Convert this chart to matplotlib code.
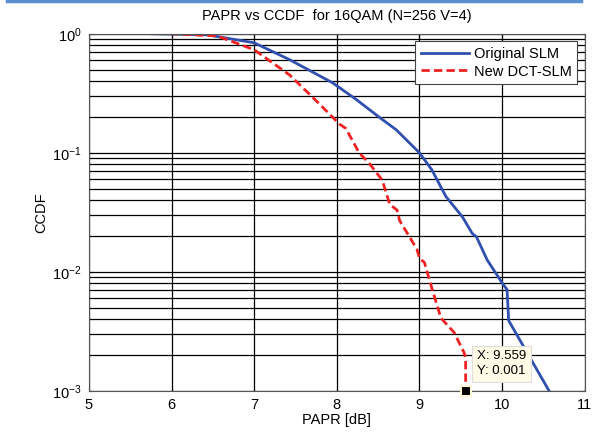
import numpy as np
import matplotlib.pyplot as plt
from matplotlib.lines import Line2D

plt.rcParams['font.family'] = ['Liberation Sans', 'DejaVu Sans']

# Original SLM curve
papr_orig = [5.76, 6.43, 7.00, 7.43, 7.95, 8.24, 8.51, 8.72, 9.00, 9.15, 9.32,
             9.52, 9.64, 9.69, 9.82, 10.00, 10.06, 10.08, 10.57]
ccdf_orig = [1.0, 0.98, 0.84, 0.605, 0.387, 0.279, 0.20, 0.156, 0.10, 0.072, 0.043,
             0.029, 0.021, 0.0197, 0.0126, 0.0081, 0.0071, 0.0039, 0.001]

# New DCT-SLM curve
papr_dct = [5.98, 6.55, 7.00, 7.43, 7.75, 8.03, 8.11, 8.27, 8.39, 8.55, 8.64,
            8.73, 8.76, 8.97, 9.00, 9.06, 9.15, 9.26, 9.42, 9.54, 9.559, 9.559]
ccdf_dct = [1.0, 0.96, 0.734, 0.45, 0.274, 0.175, 0.16, 0.10, 0.082, 0.059, 0.037,
            0.033, 0.027, 0.0155, 0.013, 0.012, 0.0073, 0.0041, 0.0031, 0.0021, 0.0019, 0.001]

tip_x, tip_y = 9.559, 0.001

fig = plt.figure(figsize=(5.93, 4.33), dpi=100)
ax = fig.add_axes([0.150, 0.097, 0.836, 0.825])

ax.semilogy(papr_orig, ccdf_orig, color='#3050b0', lw=2, label='Original SLM')
ax.semilogy(papr_dct, ccdf_dct, color='#ee2222', lw=2, ls=(0, (3, 1.5)), label='New DCT-SLM')

ax.set_xlim(5, 11)
ax.set_ylim(1e-3, 1)
ax.set_xticks([5, 6, 7, 8, 9, 10, 11])
ax.grid(True, which='major', color='black', lw=0.9, ls='-')
ax.grid(True, which='minor', axis='y', color='black', lw=0.9, ls='-')
ax.tick_params(which='both', direction='in', labelsize=10.5, length=3, pad=5,
               top=True, right=True)
ax.tick_params(which='minor', length=2)
for sp in ax.spines.values():
    sp.set_color('#555555')

ax.set_title('PAPR vs CCDF  for 16QAM (N=256 V=4)', fontsize=10.5, pad=10)
ax.set_xlabel('PAPR [dB]', fontsize=10.5, labelpad=1)
ax.set_ylabel('CCDF', fontsize=10.5, labelpad=3)

leg = ax.legend(loc='upper right', fontsize=10.5, fancybox=False, framealpha=1,
                edgecolor='#444444', handlelength=3.3, borderaxespad=0.5,
                labelspacing=0.25, handletextpad=0.3, borderpad=0.4)
leg.get_frame().set_linewidth(0.8)

# data tip
ax.plot([tip_x], [tip_y], marker='s', ms=7, color='black', mec='#fff8d8', mew=1.5,
        clip_on=False, zorder=5)
ax.annotate('X: 9.559\nY: 0.001', xy=(tip_x, tip_y), xytext=(8, 12),
            textcoords='offset points', fontsize=9.5, linespacing=1.35,
            bbox=dict(boxstyle='square,pad=0.35', fc='#fffbe6', ec='#dddddd', lw=0.8),
            zorder=6)

# blue rule at the top of the image
fig.add_artist(Line2D([0.012, 0.98], [0.997, 0.997], color='#5a8fd0', lw=2.5))

fig.savefig('out.png', dpi=100)
